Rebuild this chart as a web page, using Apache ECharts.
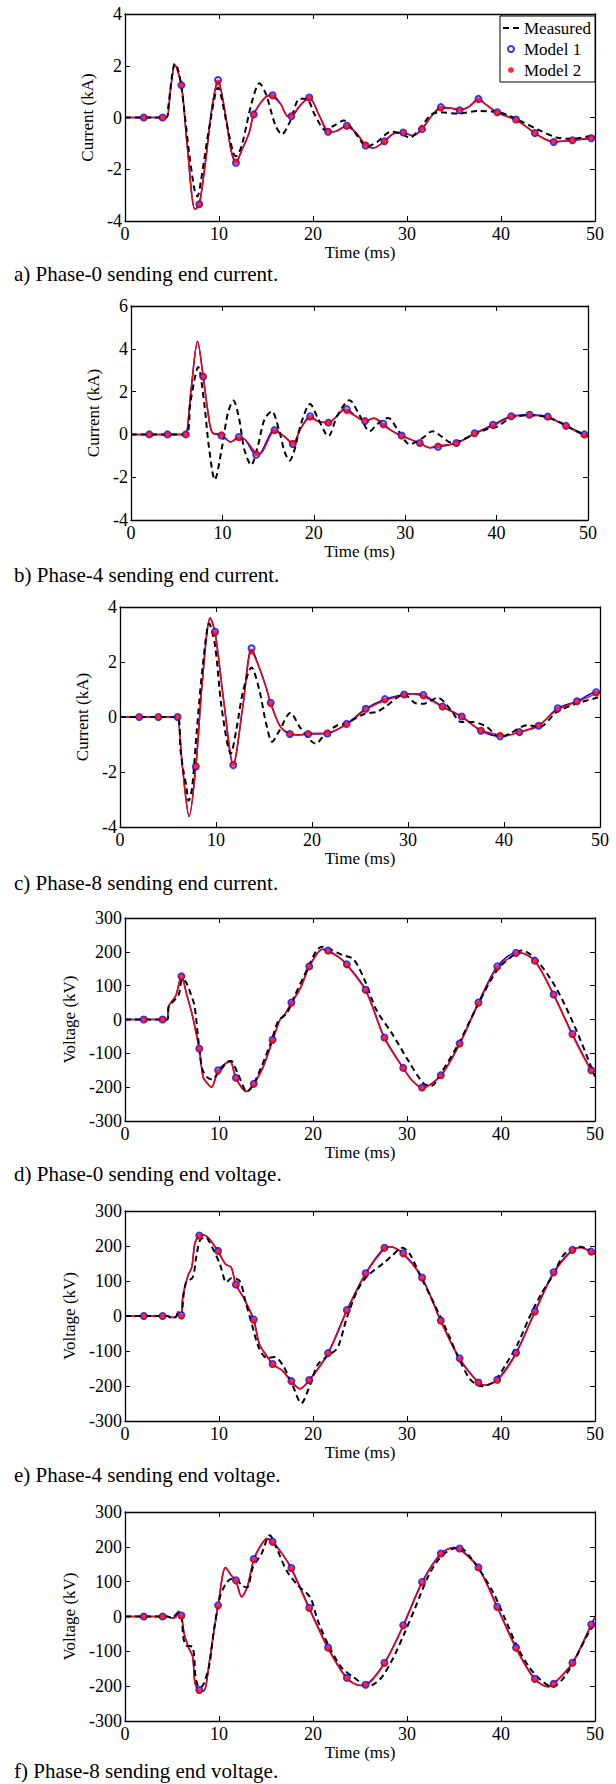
<!DOCTYPE html>
<html><head><meta charset="utf-8">
<script src="https://cdn.jsdelivr.net/npm/echarts@6/dist/echarts.min.js"></script>
<style>html,body{margin:0;padding:0;background:#fff}#c{width:616px;height:1784px}</style>
</head><body><div id="c"></div>
<script>
// ---------- data ----------
const markTimes = [2.0,4.0,6.0,7.9,9.9,11.8,13.7,15.7,17.7,19.6,21.6,23.6,25.6,27.6,29.6,31.6,33.6,35.6,37.6,39.6,41.6,43.6,45.6,47.6,49.6];
const xTickLabels = [0,10,20,30,40,50];
const ticksA = [-4,-2,0,2,4];
const ticksB = [-4,-2,0,2,4,6];
const ticksC = [-4,-2,0,2,4];
const ticksV = [-300,-200,-100,0,100,200,300];
const captions = ['a) Phase-0 sending end current.','b) Phase-4 sending end current.','c) Phase-8 sending end current.','d) Phase-0 sending end voltage.','e) Phase-4 sending end voltage.','f) Phase-8 sending end voltage.'];
const seriesNames = ['Measured','Model 1','Model 2'];

// a) Phase-0 current
const aMeasured = [[0,0],[4.4,0],[4.6,0.4],[5.0,1.6],[5.3,2.08],[5.6,1.9],[6.0,1.2],[6.8,-1.3],[7.4,-2.8],[7.7,-3.05],[8.1,-2.4],[9.0,-0.3],[9.9,1.15],[10.8,-0.2],[11.5,-1.35],[11.8,-1.5],[12.4,-1.1],[13.5,0.6],[14.3,1.32],[15.0,0.9],[16.0,-0.3],[16.7,-0.65],[17.5,-0.2],[18.6,0.72],[19.3,0.72],[20.2,0.1],[21.3,-0.48],[22.3,-0.3],[23.3,-0.12],[24.2,-0.45],[25.8,-1.12],[26.8,-0.95],[28.3,-0.55],[29.2,-0.6],[30.3,-0.78],[31.5,-0.35],[32.6,0.12],[33.5,0.2],[35.5,0.15],[37.5,0.25],[40,0.18],[42,-0.12],[44,-0.48],[46,-0.78],[47.5,-0.82],[50,-0.68]];
const aModel1 = [0,0,1.25,-3.35,1.45,-1.75,0.12,0.86,0.05,0.77,-0.55,-0.32,-1.08,-0.92,-0.58,-0.45,0.4,0.28,0.72,0.2,-0.08,-0.6,-0.95,-0.88,-0.8];
const aModel2 = [0,0,1.25,-3.38,1.35,-1.7,0.12,0.82,0.07,0.74,-0.52,-0.35,-1.05,-0.92,-0.6,-0.42,0.35,0.3,0.67,0.18,-0.1,-0.6,-0.92,-0.88,-0.78];
const aExtra = [[0,0],[4.45,0],[4.85,1.1],[5.3,2.03],[6.6,-1.0],[7.45,-3.55],[8.6,-1.6],[9.3,0.5],[10.6,0.3],[11.3,-1.3],[12.5,-1.2],[13.2,-0.6],[14.6,0.65],[15.3,0.85],[16.6,0.5],[17.3,0.05],[18.6,0.45],[20.7,0.05],[22.2,-0.55],[24.6,-0.6],[26.4,-1.18],[28.6,-0.62],[30.6,-0.7],[32.7,0.1],[34.6,0.37],[36.6,0.42],[38.4,0.5],[44.6,-0.82],[46.6,-0.92],[50,-0.72]];

// b) Phase-4 current
const bMeasured = [[0,0],[6.0,0],[6.5,1.5],[7.35,3.15],[8.0,1.5],[8.5,-0.5],[9.17,-2.12],[10.0,-0.5],[10.6,1.0],[11.2,1.58],[11.8,0.8],[12.4,-0.7],[13.15,-1.43],[13.9,-0.5],[14.6,0.7],[15.4,1.08],[16.2,0.2],[16.8,-0.8],[17.35,-1.23],[17.9,-0.7],[18.6,0.5],[19.6,1.42],[20.4,0.8],[21.6,-0.08],[22.6,0.9],[23.9,1.6],[25.0,0.9],[26.1,0.15],[27.0,0.5],[28.15,0.77],[29.2,0.2],[30.5,-0.46],[31.8,-0.2],[33.0,0.15],[34.0,-0.1],[35.0,-0.38],[36.0,-0.3],[37.5,0.0],[39.0,0.25],[40.0,0.35],[41.5,0.75],[43.5,0.9],[45.5,0.8],[47.5,0.45],[48.5,0.2],[50,-0.1]];
const bModel1 = [0,0,0,2.7,-0.05,-0.12,-0.95,0.2,-0.45,0.85,0.55,1.18,0.62,0.5,-0.05,-0.4,-0.58,-0.4,0.05,0.45,0.85,0.92,0.83,0.4,0.0];
const bModel2 = [0,0,0,2.7,0.0,-0.18,-0.88,0.15,-0.4,0.78,0.55,1.08,0.65,0.42,-0.08,-0.42,-0.52,-0.42,0.03,0.4,0.82,0.9,0.8,0.38,-0.05];
const bExtra = [[0,0],[5.8,0],[6.6,2.2],[7.28,4.35],[8.4,1.1],[8.9,0.08],[10.9,-0.35],[12.5,-0.25],[14.1,-0.92],[16.8,-0.1],[18.6,0.3],[20.5,0.6],[22.4,0.8],[23.2,1.15],[24.6,0.85],[26.6,0.75],[28.6,0.15],[30.5,-0.22],[32.7,-0.62],[50,-0.1]];

// c) Phase-8 current
const cMeasured = [[0,0],[6.0,0],[6.3,-1.2],[6.6,-1.95],[6.9,-2.5],[7.15,-3.05],[7.5,-2.6],[8.0,-0.5],[8.6,1.8],[9.3,3.4],[9.9,2.6],[10.6,0.3],[11.55,-1.33],[12.1,-0.5],[12.8,0.9],[13.7,1.8],[14.5,1.0],[15.2,-0.2],[15.85,-0.9],[16.6,-0.5],[17.75,0.15],[18.8,-0.4],[20.4,-0.97],[21.4,-0.6],[22.65,-0.3],[23.5,-0.24],[25.5,0.12],[26.7,0.18],[27.75,0.4],[29.6,0.82],[30.8,0.5],[31.6,0.48],[33.1,0.7],[34.5,0.24],[35.5,-0.18],[36.7,-0.18],[38.2,-0.36],[39.6,-0.75],[40.6,-0.6],[42.4,-0.3],[43.7,-0.36],[45.5,0.18],[47.5,0.48],[50,0.73]];
const cModel1 = [0,0,0,-1.8,3.1,-1.75,2.5,0.52,-0.62,-0.62,-0.6,-0.25,0.3,0.65,0.82,0.8,0.38,0.02,-0.5,-0.7,-0.55,-0.32,0.32,0.57,0.9];
const cModel2 = [0,0,0,-1.8,3.05,-1.7,2.38,0.48,-0.6,-0.6,-0.57,-0.28,0.27,0.6,0.8,0.75,0.36,0.0,-0.48,-0.65,-0.55,-0.3,0.28,0.55,0.85];
const cExtra = [[0,0],[5.8,0],[6.5,-1.8],[7.2,-3.62],[8.6,1.4],[9.4,3.6],[10.8,0.6],[12.8,0.4],[14.5,1.8],[15.2,1.1],[16.7,-0.35],[18.6,-0.65],[30.5,0.85],[40.2,-0.68],[50,0.9]];

// d) Phase-0 voltage
const dMeasured = [[0,0],[4.5,0],[4.65,38],[5.0,50],[5.7,72],[6.1,120],[6.5,110],[7.0,75],[7.4,40],[7.8,-60],[8.2,-145],[8.7,-170],[9.25,-177],[10.0,-155],[10.9,-125],[11.3,-123],[12.0,-160],[13.0,-213],[13.8,-185],[15.5,-70],[16.3,-5],[17.2,18],[18.0,67],[19.5,155],[20.4,205],[21.0,215],[22.0,205],[23.0,192],[24.3,178],[25.5,116],[26.75,28],[28.4,-41],[30.1,-120],[31.75,-189],[32.6,-196],[33.6,-159],[35.5,-71],[37.6,47],[39.7,150],[41.75,199],[42.2,204],[43.8,175],[45.9,91],[48.0,-31],[50,-169]];
const dModel1 = [0,0,128,-86,-150,-172,-190,-60,50,157,204,163,88,-53,-143,-201,-165,-71,50,157,197,174,74,-43,-150];
const dModel2 = [0,0,127,-88,-154,-174,-192,-63,47,155,201,161,85,-56,-144,-202,-166,-73,47,153,194,172,72,-46,-152];
const dExtra = [[0,0],[4.5,0],[4.65,40],[5.4,70],[6.6,70],[7.1,20],[7.5,-31],[8.3,-170],[8.6,-183],[9.2,-200],[10.8,-128],[11.2,-124],[12.9,-213],[14.7,-140],[16.5,0],[17.0,15],[18.7,95],[21.0,208],[22.7,185],[30.6,-182],[42.0,197],[50,-164]];

// e) Phase-4 voltage
const eMeasured = [[0,0],[4.5,0],[5.0,-7],[5.4,-3],[5.7,10],[6.0,0],[6.2,52],[6.5,96],[7.2,110],[7.6,172],[8.0,217],[8.6,225],[8.8,220],[9.45,187],[10.1,148],[10.8,96],[11.3,108],[12.2,100],[12.8,43],[13.4,-14],[14.25,-91],[15.1,-120],[15.9,-117],[16.75,-139],[17.8,-196],[18.75,-249],[19.7,-196],[20.5,-139],[21.5,-115],[22.6,-91],[23.6,-5],[24.7,72],[25.7,112],[27.6,153],[28.4,172],[29.5,195],[30.3,177],[31.5,110],[33,29],[34.25,-43],[35.5,-120],[36.75,-182],[38,-201],[39.25,-187],[40.5,-139],[41.75,-81],[43,-5],[44.25,62],[45.5,115],[46.75,177],[48.4,198],[50,182]];
const eModel1 = [0,0,2,230,186,90,-10,-137,-186,-183,-106,17,122,195,179,110,-13,-121,-190,-182,-105,13,125,189,184];
const eModel2 = [0,0,-2,228,184,88,-14,-139,-188,-184,-108,14,120,193,177,108,-16,-124,-191,-184,-108,10,122,187,182];
const eExtra = [[0,0],[4.5,0],[5.0,-4],[5.4,-3],[5.65,12],[6.15,55],[6.7,115],[7.1,139],[7.45,210],[8.2,232],[8.8,225],[10.7,148],[11.3,139],[12.6,53],[14.3,-81],[15.1,-115],[16.75,-156],[18.6,-208],[28.2,198],[38.2,-198],[48.5,196],[50,177]];

// f) Phase-8 voltage
const fMeasured = [[0,0],[4.5,0],[5.0,-5],[5.6,10],[6.0,0],[6.2,-59],[6.5,-83],[7.2,-88],[7.5,-173],[7.8,-202],[8.0,-204],[8.4,-192],[9.0,-135],[9.45,-40],[10.1,55],[10.7,93],[11.3,108],[12,103],[12.4,89],[13,84],[13.6,141],[14.5,179],[15.4,233],[16.1,198],[17.2,131],[18.4,89],[19.7,55],[20.5,-11],[21.75,-88],[23,-145],[24.25,-173],[25.9,-200],[27.2,-178],[28.4,-126],[29.7,-50],[30.9,27],[32.2,112],[33.4,165],[34.7,193],[35.7,196],[36.75,170],[38,122],[39.25,65],[40.5,-11],[41.75,-88],[43,-145],[44.25,-183],[45.5,-202],[46.75,-173],[48,-116],[49.25,-50],[50,-21]];
const fModel1 = [0,0,3,-211,32,104,165,215,139,25,-89,-176,-196,-133,-25,99,181,195,141,28,-89,-179,-193,-133,-23];
const fModel2 = [0,0,0,-214,29,101,162,212,136,22,-92,-178,-197,-135,-28,96,179,193,139,25,-92,-181,-194,-135,-26];
const fExtra = [[0,0],[4.5,0],[5.0,-4],[5.4,-2],[5.7,15],[6.3,-50],[6.75,-88],[7.2,-116],[7.45,-192],[8.3,-214],[8.6,-200],[9.05,-116],[10.7,141],[11.3,118],[12.4,57],[13.0,84],[14.5,206],[15.1,224],[16.75,179],[25.0,-198],[35.0,198],[45.0,-202],[50,-2]];

// ---------- build ----------
const FONT = 'Liberation Serif';
function marks(vals){ return markTimes.map((t,i)=>[t,vals[i]]); }
function curve(vals, extra){ return marks(vals).concat(extra).sort((p,q)=>p[0]-q[0]); }

const panels = [
  {grid:{left:125,top:14,width:470,height:207}, ticks:ticksA, name:'Current (kA)', gap:20, meas:aMeasured, m1:aModel1, m2:aModel2, extra:aExtra, capY:274},
  {grid:{left:131,top:306,width:457,height:214}, ticks:ticksB, name:'Current (kA)', gap:21, meas:bMeasured, m1:bModel1, m2:bModel2, extra:bExtra, capY:575},
  {grid:{left:120,top:607,width:480,height:220}, ticks:ticksC, name:'Current (kA)', gap:21, meas:cMeasured, m1:cModel1, m2:cModel2, extra:cExtra, capY:883},
  {grid:{left:125,top:918,width:470,height:203}, ticks:ticksV, name:'Voltage (kV)', gap:38, meas:dMeasured, m1:dModel1, m2:dModel2, extra:dExtra, capY:1174},
  {grid:{left:125,top:1211,width:470,height:210}, ticks:ticksV, name:'Voltage (kV)', gap:38, meas:eMeasured, m1:eModel1, m2:eModel2, extra:eExtra, capY:1475},
  {grid:{left:125,top:1512,width:470,height:209}, ticks:ticksV, name:'Voltage (kV)', gap:38, meas:fMeasured, m1:fModel1, m2:fModel2, extra:fExtra, capY:1771}
];

const grid=[], xAxis=[], yAxis=[], series=[], graphic=[];
const lineAx = {show:true, onZero:false, lineStyle:{color:'#000', width:1.3}};
const tickAx = {show:true, inside:true, length:5, lineStyle:{color:'#000', width:1}};
const labelAx = {color:'#000', fontFamily:FONT, fontSize:18};
const nameSty = {color:'#000', fontFamily:FONT, fontSize:17};
panels.forEach((p,i)=>{
  grid.push(Object.assign({show:false, containLabel:false, outerBoundsMode:'none'}, p.grid));
  const xmin = xTickLabels[0], xmax = xTickLabels[xTickLabels.length-1], xint = xTickLabels[1]-xTickLabels[0];
  const ymin = p.ticks[0], ymax = p.ticks[p.ticks.length-1], yint = p.ticks[1]-p.ticks[0];
  xAxis.push({type:'value', gridIndex:i, position:'bottom', min:xmin, max:xmax, interval:xint,
    axisLine:lineAx, axisTick:tickAx, splitLine:{show:false},
    axisLabel:Object.assign({margin:4}, labelAx),
    name:'Time (ms)', nameLocation:'middle', nameGap:17, nameTextStyle:nameSty});
  xAxis.push({type:'value', gridIndex:i, position:'top', min:xmin, max:xmax, interval:xint,
    axisLine:lineAx, axisTick:tickAx, splitLine:{show:false}, axisLabel:{show:false}});
  yAxis.push({type:'value', gridIndex:i, position:'left', min:ymin, max:ymax, interval:yint,
    axisLine:lineAx, axisTick:tickAx, splitLine:{show:false},
    axisLabel:Object.assign({margin:3}, labelAx),
    name:p.name, nameLocation:'middle', nameGap:p.gap, nameTextStyle:nameSty});
  yAxis.push({type:'value', gridIndex:i, position:'right', min:ymin, max:ymax, interval:yint,
    axisLine:lineAx, axisTick:tickAx, splitLine:{show:false}, axisLabel:{show:false}});
  const xi = 2*i, yi = 2*i;
  series.push({type:'line', name:'Model 1 line', xAxisIndex:xi, yAxisIndex:yi, data:curve(p.m1,p.extra),
    smooth:0.3, showSymbol:false, symbol:'none', lineStyle:{color:'#0000ff', width:1.5}, z:2});
  series.push({type:'line', name:'Model 2 line', xAxisIndex:xi, yAxisIndex:yi, data:curve(p.m2,p.extra),
    smooth:0.3, showSymbol:false, symbol:'none', lineStyle:{color:'#ff0000', width:1.5}, z:3});
  series.push({type:'line', name:seriesNames[0], xAxisIndex:xi, yAxisIndex:yi, data:p.meas,
    smooth:0.3, showSymbol:false, symbol:'none', itemStyle:{color:'#000'},
    lineStyle:{color:'#000', width:2, type:[6,4]}, z:4});
  series.push({type:'scatter', name:seriesNames[1], xAxisIndex:xi, yAxisIndex:yi, data:marks(p.m1),
    symbol:'emptyCircle', symbolSize:6, itemStyle:{color:'#0000ff', borderColor:'#0000ff', borderWidth:1.2}, z:5});
  series.push({type:'scatter', name:seriesNames[2], xAxisIndex:xi, yAxisIndex:yi, data:marks(p.m2),
    symbol:'circle', symbolSize:6, itemStyle:{color:'#ff0000'}, z:6});
  graphic.push({type:'text', left:14, top:p.capY-11, z:10,
    style:{text:captions[i], fontFamily:FONT, fontSize:21, fill:'#000'}});
});

const chart = echarts.init(document.getElementById('c'), null, {renderer:'svg', width:616, height:1784});
chart.setOption({
  animation:false,
  backgroundColor:'#fff',
  textStyle:{fontFamily:FONT},
  grid, xAxis, yAxis, series, graphic,
  legend:{show:true, left:500, top:16, orient:'vertical', selectedMode:false,
    data:[{name:seriesNames[0], icon:'path://M0,0H6V2H0Z M10,0H16V2H10Z'}, {name:seriesNames[1]}, {name:seriesNames[2]}],
    itemWidth:16, itemHeight:6, itemGap:3, padding:[3,4,3,3],
    borderColor:'#000', borderWidth:1, backgroundColor:'#fff', z:20,
    textStyle:{fontFamily:FONT, fontSize:17, color:'#000', lineHeight:18}}
});
</script></body></html>
